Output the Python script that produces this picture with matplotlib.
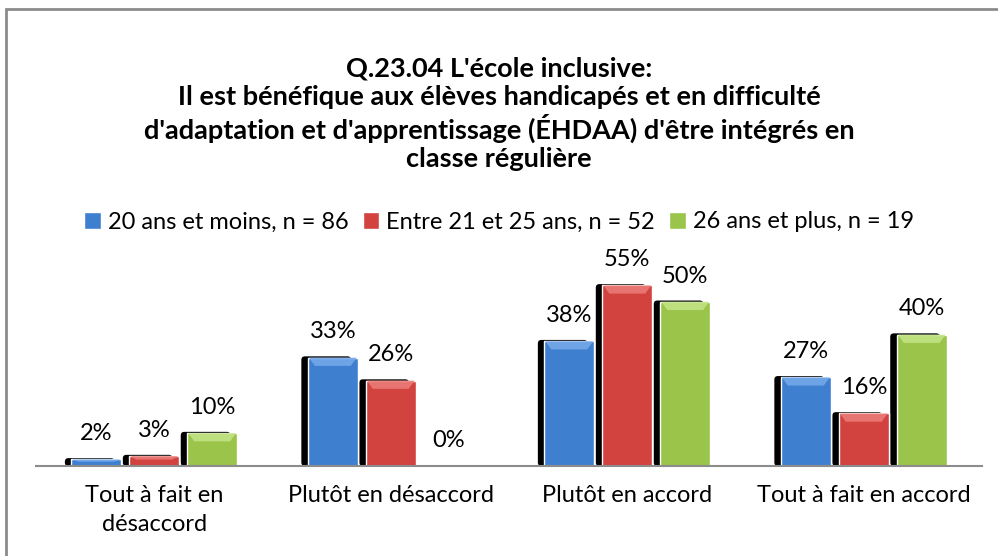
import numpy as np
import matplotlib
matplotlib.use("Agg")
from matplotlib import pyplot as plt
from matplotlib.patches import Rectangle, FancyBboxPatch, Polygon

plt.rcParams['font.family'] = ['Lato', 'DejaVu Sans']

# survey answers, percent of each age group
categories = ["Tout à fait en\ndésaccord", "Plutôt en désaccord",
              "Plutôt en accord", "Tout à fait en accord"]
series_names = ["20 ans et moins, n = 86", "Entre 21 et 25 ans, n = 52",
                "26 ans et plus, n = 19"]
age_20 = [2, 33, 38, 27]
age_21_25 = [3, 26, 55, 16]
age_26 = [10, 0, 50, 40]
title = ("Q.23.04 L'école inclusive:\n"
         "Il est bénéfique aux élèves handicapés et en difficulté\n"
         "d'adaptation et d'apprentissage (ÉHDAA) d'être intégrés en\n"
         "classe régulière")

colors = ["#3f7fcf", "#d24340", "#9ac44a"]
tops = ["#74a8e8", "#ea7a76", "#c2e384"]

fig = plt.figure(figsize=(9.98, 5.56), dpi=100)
fig.patch.set_facecolor("white")
# outer chart frame
fig.add_artist(Rectangle((6 / 998, -0.05), 1.2, 1 - 9 / 556 + 0.05,
                         transform=fig.transFigure, fill=False,
                         edgecolor="#8c8c8c", lw=2))

ax = fig.add_axes([36 / 998, 1 - 466 / 556, 946 / 998, 197 / 556])
ax.set_xlim(-0.5, 3.5)
ax.set_ylim(0, 60)

x = np.arange(len(categories))
w = 0.21
gap = 0.035
series = [age_20, age_21_25, age_26]
for i, vals in enumerate(series):
    xs = x + (i - 1) * (w + gap)
    for xc, v in zip(xs, vals):
        if v > 0:
            # dark shadow on the left side
            sh = FancyBboxPatch((xc - w / 2 - 0.028, 0), w, v + 0.4,
                                boxstyle="round,pad=0,rounding_size=0.015",
                                mutation_aspect=60 / 197 * 946 / 4,
                                facecolor="black", edgecolor="none", zorder=2)
            ax.add_patch(sh)
    ax.bar(xs, vals, width=w, color=colors[i], edgecolor="white", lw=1,
           zorder=3, label=series_names[i])
    # bevel at the top of each bar
    for xc, v in zip(xs, vals):
        if v > 0:
            bh = min(2.5, v * 0.35)
            l, r = xc - w / 2 + 0.004, xc + w / 2 - 0.004
            ax.add_patch(Polygon([(l, v), (r, v), (r - 0.025, v - bh),
                                  (l + 0.025, v - bh)], closed=True,
                                 facecolor=tops[i], edgecolor="none",
                                 zorder=4, alpha=0.9))
        ax.annotate(f"{v}%", (xc, v), xytext=(0, 18.5), textcoords="offset points",
                    ha="center", va="center", fontsize=17, color="black")

ax.set_xticks(x)
ax.set_xticklabels(categories, fontsize=17, linespacing=1.45)
ax.tick_params(axis="x", length=0, pad=14)
ax.set_yticks([])
for s in ["top", "right", "left"]:
    ax.spines[s].set_visible(False)
ax.spines["bottom"].set_color("#8c8c8c")
ax.spines["bottom"].set_linewidth(1.5)
ax.spines["bottom"].set_zorder(5)

fig.text(0.5, 1 - 114 / 556, title, ha="center", va="center",
         fontsize=19.5, fontweight="bold", linespacing=1.2)

fig.legend(loc="center", bbox_to_anchor=(0.5, 1 - 222 / 556), ncol=3,
           frameon=False, fontsize=17, handlelength=0.7, handleheight=0.7,
           handletextpad=0.3, columnspacing=0.6)

fig.savefig("out.png", dpi=100)
